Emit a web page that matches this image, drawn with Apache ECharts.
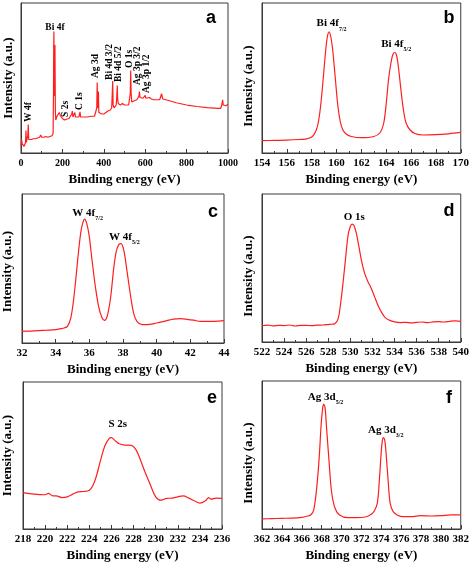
<!DOCTYPE html>
<html><head><meta charset="utf-8">
<script src="https://cdn.jsdelivr.net/npm/echarts@6/dist/echarts.min.js"></script>
<style>html,body{margin:0;padding:0;background:#fff}#c{width:472px;height:563px}</style>
</head><body><div id="c"></div>
<script>
// ---- (a) survey spectrum ----
const surveyEnergy = [0,3,6,10,15,20,22,24,26,30,33,35,37,40,50,60,70,80,90,95,100,110,120,130,140,150,155,157,158,159,160,161.5,163,164,165,166,168,172,178,185,190,200,210,220,226,232,240,245,248,251,256,260,263,270,280,285,288,300,320,340,355,362,366,368,370,372,374,376,380,390,400,410,420,430,438,441,443,445,450,455,460,463,465,467,470,480,490,500,510,520,526,528,530,532,535,540,550,560,566,570,572,575,580,590,597,600,603,606,610,620,622,630,640,650,660,670,676,679,682,685,690,700,750,800,805,810,850,900,950,965,970,974,977,982,986,990,1000];
const surveyIntensity = [5,9,6,5,4.5,5,7,15,7,7,12,19,9,8,9,9.5,9.5,10,10.5,12,10.5,10.5,11,10.5,11,11.5,13,40,70,81,55,38,45,72,50,28,22,24,25,27,25,23,22,22.5,23.5,23,23,26,28,24,25,27,24,24,24,27.5,24,24,24,24.5,24.5,25,30,47,30,30,41,27,26,26,26,27,28,28.5,30,40,48,32,30,30,32,38,45,36,33,32,33,32,32,32,33,40,55,40,34,34,35,35.5,36,38,41,37,36,36.5,37,38.5,36.5,37.5,36.5,37,36,36,35.5,35.5,35.5,35.5,36,39.5,39,36,35.5,35.5,33.5,32,32.5,31.8,31,30.2,29.8,29.8,32,35.5,32,31,33,31.5,32.5];
const surveyLabels = ['W 4f','S 2s','C 1s','Ag 3d','Bi 4d 3/2','Bi 4d 5/2','O 1s','Ag 3p 3/2','Ag 3p 1/2'];
const surveyLabelEnergy = [38,216,285,362,430,470,522,562,607];
const surveyLabelBase = [20.7,24,28.7,50,48.7,47.3,56.7,45.3,40];

// ---- (b) Bi 4f ----
const bi4fEnergy = [154,155,156,157,157.5,158,158.3,158.5,158.7,158.9,159.1,159.25,159.4,159.55,159.7,159.9,160.1,160.3,160.5,160.8,161.2,162,163,163.5,163.8,164.0,164.2,164.4,164.55,164.7,164.85,165.0,165.2,165.4,165.6,165.9,166.3,167,168,169,170];
const bi4fIntensity = [8.2,8.4,8.6,9,9.3,10.6,14,19,30,47,66,77,80.8,77,68,50,32,21,15.5,12.5,11,10.2,11,13.5,20,33,50,61,66,67,64.5,56,41,28,20,15.5,13,12,12.2,12.8,13.7];

// ---- (c) W 4f ----
const w4fEnergy = [32,32.5,33,33.5,34,34.3,34.5,34.7,34.9,35.1,35.3,35.5,35.65,35.72,35.84,35.98,36.17,36.37,36.57,36.76,36.9,37.06,37.26,37.45,37.6,37.75,37.88,38.04,38.24,38.44,38.63,38.83,39.13,39.42,40,40.6,41,41.4,41.8,42.2,42.6,43,43.4,44];
const w4fIntensity = [7.8,8,8.3,8.6,9,9.6,10.1,11.2,16.8,32.4,54.8,74.9,82.1,83.2,80.5,72.7,54.8,36.9,23.5,16.8,15.2,17.9,30.2,50.3,61.5,66,66.7,62.6,48.1,32.4,20.1,14.5,12.3,12.3,13.4,15,16,16.3,15.9,15.3,14.5,14.5,14.5,15];

// ---- (d) O 1s ----
const o1sEnergy = [522,522.5,523,523.5,524,524.5,525,525.5,526,526.5,527,527.5,528,528.3,528.6,528.9,529.1,529.35,529.6,529.8,530,530.15,530.33,530.54,530.75,531,531.3,531.6,531.9,532.2,532.5,532.8,533.1,533.4,534,534.6,535,535.5,536,536.5,537,537.5,538,538.5,539,539.5,540];
const o1sIntensity = [11,11.4,10.9,11.3,11.1,11.5,10.8,11.2,11.3,11,11.4,11.5,11.8,12,12.4,15.8,24.9,40.7,58.8,72.4,78,79.6,78.7,73.5,65.6,55.4,46.4,40.7,36.2,30.5,24.9,20.4,17,15.2,13.6,13.1,13.3,12.9,13.2,13.5,13.1,13.6,13.8,13.5,14,14.3,14];

// ---- (e) S 2s ----
const s2sEnergy = [218,219,220,220.3,220.7,221,221.5,222,222.5,223,223.5,224,224.3,224.6,225,225.4,225.8,226,226.3,226.7,227.2,227.8,228.2,228.6,229,229.5,230,230.5,231,231.5,232,232.5,233,233.5,234,234.5,234.8,235,235.5,236];
const s2sIntensity = [24.8,23.7,23.3,24.2,22.6,22.6,21.4,21.9,23.7,25.3,25.5,26.4,29.3,35,46.3,56.4,61.6,62.1,60.3,58,57.1,56.9,54.2,47.4,39.5,30.5,21.9,19.6,20.8,21,21.9,22.6,21,19.2,17.6,19.2,21.4,20.3,21,20.8];

// ---- (f) Ag 3d ----
const ag3dEnergy = [362,363,364,365,366,366.5,366.9,367.2,367.5,367.75,367.95,368.1,368.2,368.35,368.5,368.75,369,369.35,369.8,370.65,371.5,372.5,373,373.3,373.6,373.8,374,374.1,374.2,374.35,374.5,374.7,374.9,375.2,375.6,376.2,377,378,379,380,381,382];
const ag3dIntensity = [6.8,7,7.2,7.4,7.9,8.6,9.5,12.8,27.5,47.7,70.3,81.5,84.2,81.5,68,45.5,25.2,14,9.5,7.7,7.7,8.3,9.9,12.2,17.3,32,52.3,59,61.7,60.1,50,32,17.3,11.7,9.5,8.3,8.3,9,8.8,9,9.5,9.5];

// axis ranges / ticks
const axisMin = [0,154,32,522,218,362];
const axisMax = [1000,170,44,540,236,382];
const axisInterval = [200,2,2,2,2,2];
const panelLetters = ['a','b','c','d','e','f'];

// peak labels (main text, subscript, energy, intensity of label centre)
const peakLabelPanel = [1,1,2,2,3,4,5,5];
const peakLabelMain = ['Bi 4f','Bi 4f','W 4f','W 4f','O 1s','S 2s','Ag 3d','Ag 3d'];
const peakLabelSub = ['7/2','5/2','7/2','5/2','','','5/2','3/2'];
const peakLabelEnergy = [159.6,164.8,35.9,38.08,530.35,226.57,368.4,374.45];
const peakLabelIntensity = [85.3,71.5,86.4,70.3,83.6,70.5,88.3,65.7];
const surveyTopLabel = {text:'Bi 4f', energy:164, intensity:83.5};

const SERIF = '"Liberation Serif","Times New Roman",serif';
const RED = '#ff1e1e';
const AXC = '#3a3a3a';

const grids = [
  {left:21, top:3, width:207, height:150},
  {left:262, top:3, width:202, height:150},
  {left:21, top:194, width:203, height:149},
  {left:262, top:194, width:202, height:148},
  {left:21, top:382, width:201, height:148},
  {left:262, top:381, width:202, height:148}
];
const yNameGap = [6,7,8,7,9,7];
const yNameShift = [0,8,3,8,0,8];
const letterPos = [[211,18],[449,18],[213,212],[449,211],[212,398],[449,398]];

const energies = [surveyEnergy,bi4fEnergy,w4fEnergy,o1sEnergy,s2sEnergy,ag3dEnergy];
const intens = [surveyIntensity,bi4fIntensity,w4fIntensity,o1sIntensity,s2sIntensity,ag3dIntensity];

const chart = echarts.init(document.getElementById('c'), null, {renderer:'canvas'});
const option = {
  animation:false,
  backgroundColor:'#fff',
  grid: grids.map(g => Object.assign({show:true, borderColor:AXC, borderWidth:1, backgroundColor:'transparent'}, g)),
  xAxis: grids.map((g,i) => ({
    type:'value', gridIndex:i, min:axisMin[i], max:axisMax[i], interval:axisInterval[i],
    axisLine:{show:true, onZero:false, lineStyle:{color:AXC, width:1}},
    axisTick:{show:true, inside:true, length:4, lineStyle:{color:AXC}},
    minorTick:{show:true, splitNumber:2, length:2, lineStyle:{color:AXC}},
    splitLine:{show:false},
    axisLabel:{fontFamily:SERIF, fontWeight:'bold', fontSize: i===0?10:11, color:'#000', margin:5,
      formatter: v => String(v)},
    name:'Binding energy (eV)', nameLocation:'middle', nameGap:20,
    nameTextStyle:{fontFamily:SERIF, fontWeight:'bold', fontSize:13, color:'#000'}
  })),
  yAxis: grids.map((g,i) => ({
    type:'value', gridIndex:i, min:0, max:100,
    axisLine:{show:true, lineStyle:{color:AXC, width:1}},
    axisTick:{show:false}, axisLabel:{show:false}, splitLine:{show:false},
    name:'Intensity (a.u.)', nameLocation:'middle', nameGap:yNameGap[i], nameRotate:90,
    nameTextStyle:{fontFamily:SERIF, fontWeight:'bold', fontSize:13, color:'#000',
      padding:[0, yNameShift[i]*2, 0, 0]}
  })),
  series: energies.map((e,i) => ({
    type:'line', xAxisIndex:i, yAxisIndex:i, symbol:'none', showSymbol:false,
    smooth: i===0 ? false : 0.35,
    lineStyle:{color:RED, width:1.2},
    data: e.map((x,k) => [x, intens[i][k]])
  }))
};
chart.setOption(option);

const graphics = [];
// panel letters
letterPos.forEach((p,i) => graphics.push({type:'text', x:p[0], y:p[1], silent:true,
  style:{text:panelLetters[i], fill:'#000', font:'bold 18px "Liberation Sans", Arial, sans-serif', align:'center', verticalAlign:'middle'}}));
// survey labels (rotated)
surveyLabels.forEach((t,k) => {
  const p = chart.convertToPixel({gridIndex:0}, [surveyLabelEnergy[k], surveyLabelBase[k]]);
  graphics.push({type:'text', x:p[0], y:p[1], rotation:Math.PI/2, silent:true,
    style:{text:t, fill:'#000', font:'bold 9.5px ' + SERIF, align:'left', verticalAlign:'middle'}});
});
{
  const p = chart.convertToPixel({gridIndex:0}, [surveyTopLabel.energy, surveyTopLabel.intensity]);
  graphics.push({type:'text', x:p[0], y:p[1], silent:true,
    style:{text:surveyTopLabel.text, fill:'#000', font:'bold 9.5px ' + SERIF, align:'center', verticalAlign:'middle'}});
}
// peak labels with subscripts
peakLabelMain.forEach((t,k) => {
  const p = chart.convertToPixel({gridIndex:peakLabelPanel[k]}, [peakLabelEnergy[k], peakLabelIntensity[k]]);
  const txt = peakLabelSub[k] ? '{m|' + t + '}{s|' + peakLabelSub[k] + '}' : '{m|' + t + '}';
  graphics.push({type:'text', x:p[0], y:p[1], silent:true,
    style:{text:txt, align:'center', verticalAlign:'middle',
      rich:{
        m:{fontFamily:SERIF, fontWeight:'bold', fontSize:11, lineHeight:14, verticalAlign:'top', fill:'#000', color:'#000'},
        s:{fontFamily:SERIF, fontWeight:'bold', fontSize:6, lineHeight:6, verticalAlign:'bottom', fill:'#000', color:'#000'}
      }}});
});
chart.setOption({graphic: graphics});
</script></body></html>
